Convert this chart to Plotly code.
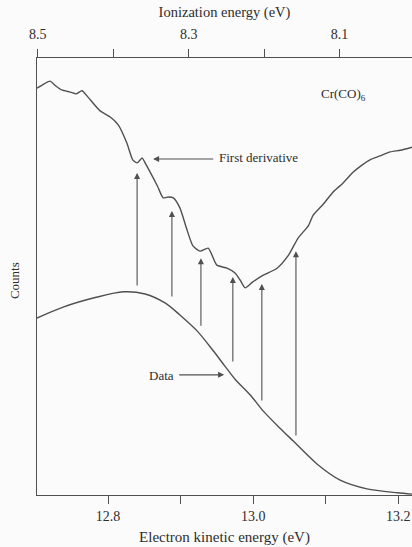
import plotly.graph_objects as go

# Photoelectron spectrum of Cr(CO)6: raw counts and first derivative
ke_data = [12.702, 12.738, 12.785, 12.821, 12.851, 12.879, 12.899, 12.923, 12.945,
           12.961, 12.975, 12.996, 13.014, 13.037, 13.055, 13.088, 13.120, 13.157,
           13.199, 13.219]
counts_data = [40.5, 43.0, 45.3, 46.5, 46.0, 43.9, 41.2, 37.5, 33.0,
               29.5, 26.5, 22.9, 19.2, 15.3, 12.4, 7.1, 3.4, 1.4,
               0.5, 0.2]

ke_deriv = [12.702, 12.712, 12.720, 12.728, 12.736, 12.748, 12.756, 12.764, 12.772,
            12.789, 12.803, 12.814, 12.826, 12.834, 12.840, 12.847, 12.852, 12.868,
            12.876, 12.883, 12.890, 12.899, 12.908, 12.917, 12.927, 12.938, 12.950,
            12.964, 12.975, 12.982, 12.989, 12.999, 13.014, 13.033, 13.048, 13.062,
            13.076, 13.083, 13.096, 13.110, 13.124, 13.138, 13.150, 13.161, 13.175,
            13.189, 13.203, 13.219]
counts_deriv = [93.1, 94.1, 94.7, 93.6, 92.7, 92.2, 91.8, 92.5, 91.1,
                87.9, 86.5, 84.7, 80.5, 76.7, 76.0, 77.1, 75.7, 70.7,
                68.0, 68.2, 68.0, 65.7, 61.1, 57.0, 55.8, 56.5, 52.6,
                51.9, 50.8, 49.2, 47.4, 48.7, 50.3, 51.9, 54.7, 58.8,
                61.6, 64.1, 66.4, 69.3, 71.4, 73.9, 75.5, 76.7, 77.6,
                78.5, 78.9, 79.6]

# Vertical arrows linking features: kinetic energy, base and tip heights
arrow_ke = [12.840, 12.888, 12.928, 12.972, 13.012, 13.059]
arrow_base = [47.6, 45.1, 38.4, 30.2, 21.3, 13.3]
arrow_tip = [73.7, 65.0, 54.2, 49.9, 48.3, 55.8]

bottom_ticks = [12.8, 13.0, 13.2]
bottom_labels = ["12.8", "13.0", "13.2"]
top_ticks = [8.5, 8.3, 8.1]
top_labels = ["8.5", "8.3", "8.1"]

ink = "#505050"
text_ink = "#2e2e2e"
serif = "Liberation Serif, Times New Roman, serif"

fig = go.Figure()
fig.add_trace(go.Scatter(x=ke_deriv, y=counts_deriv, mode="lines",
                         line=dict(color=ink, width=1.4, shape="spline", smoothing=0.6),
                         hoverinfo="skip", showlegend=False))
fig.add_trace(go.Scatter(x=ke_data, y=counts_data, mode="lines",
                         line=dict(color=ink, width=1.4, shape="spline", smoothing=0.8),
                         hoverinfo="skip", showlegend=False))
# carrier trace so the ionization-energy axis is drawn
fig.add_trace(go.Scatter(x=[8.5, 8.1], y=[None, None], xaxis="x2", mode="lines",
                         hoverinfo="skip", showlegend=False))

annotations = []
for k, b, t in zip(arrow_ke, arrow_base, arrow_tip):
    annotations.append(dict(x=k, y=t, ax=k, ay=b, xref="x", yref="y", axref="x", ayref="y",
                            text="", showarrow=True, arrowhead=2, arrowsize=1.1,
                            arrowwidth=1.1, arrowcolor=ink))

# labelled arrows
annotations.append(dict(x=12.862, y=76.9, ax=12.947, ay=76.9, xref="x", yref="y",
                        axref="x", ayref="y", text="", showarrow=True, arrowhead=2,
                        arrowsize=1.1, arrowwidth=1.1, arrowcolor=ink))
annotations.append(dict(x=12.950, y=77.2, xref="x", yref="y", text="First derivative",
                        showarrow=False, xanchor="left", yanchor="middle",
                        font=dict(family=serif, size=13, color=text_ink)))
annotations.append(dict(x=12.960, y=27.5, ax=12.896, ay=27.5, xref="x", yref="y",
                        axref="x", ayref="y", text="", showarrow=True, arrowhead=2,
                        arrowsize=1.1, arrowwidth=1.1, arrowcolor=ink))
annotations.append(dict(x=12.893, y=27.3, xref="x", yref="y", text="Data",
                        showarrow=False, xanchor="right", yanchor="middle",
                        font=dict(family=serif, size=13, color=text_ink)))
annotations.append(dict(x=13.124, y=91.6, xref="x", yref="y", text="Cr(CO)<sub>6</sub>",
                        showarrow=False, xanchor="center", yanchor="middle",
                        font=dict(family=serif, size=13, color=text_ink)))
annotations.append(dict(x=-0.058, y=0.49, xref="paper", yref="paper", text="Counts",
                        textangle=-90, showarrow=False, xanchor="center", yanchor="middle",
                        font=dict(family=serif, size=13, color=text_ink)))

fig.update_layout(
    width=412, height=547,
    margin=dict(l=37, r=0, t=58, b=52),
    paper_bgcolor="#fbfbfb", plot_bgcolor="#fbfbfb",
    font=dict(family=serif, size=14, color=text_ink),
    annotations=annotations,
    xaxis=dict(range=[12.702, 13.219], tickvals=bottom_ticks, ticktext=bottom_labels,
               ticks="outside", ticklen=8, tickwidth=1.1, tickcolor=ink,
               minor=dict(ticks="outside", tick0=12.8, dtick=0.1, ticklen=8,
                          tickwidth=1.1, tickcolor=ink, showgrid=False),
               showline=True, linecolor=ink, linewidth=1.3, showgrid=False, zeroline=False,
               title=dict(text="Electron kinetic energy (eV)", standoff=8,
                          font=dict(family=serif, size=15, color=text_ink)),
               tickfont=dict(family=serif, size=14, color=text_ink)),
    xaxis2=dict(range=[8.501, 8.004], overlaying="x", side="top", anchor="y",
                tickvals=top_ticks, ticktext=top_labels,
                ticks="outside", ticklen=8, tickwidth=1.1, tickcolor=ink,
                minor=dict(ticks="outside", tick0=8.5, dtick=0.1, ticklen=8,
                           tickwidth=1.1, tickcolor=ink, showgrid=False),
                ticklabelstandoff=4,
                showline=True, linecolor=ink, linewidth=1.3, showgrid=False, zeroline=False,
                title=dict(text="Ionization energy (eV)", standoff=6,
                           font=dict(family=serif, size=14.5, color=text_ink)),
                tickfont=dict(family=serif, size=14, color=text_ink)),
    yaxis=dict(range=[0, 100], showticklabels=False, ticks="", showgrid=False,
               zeroline=False, showline=True, linecolor=ink, linewidth=1.3),
)

fig.write_html("out.html")
